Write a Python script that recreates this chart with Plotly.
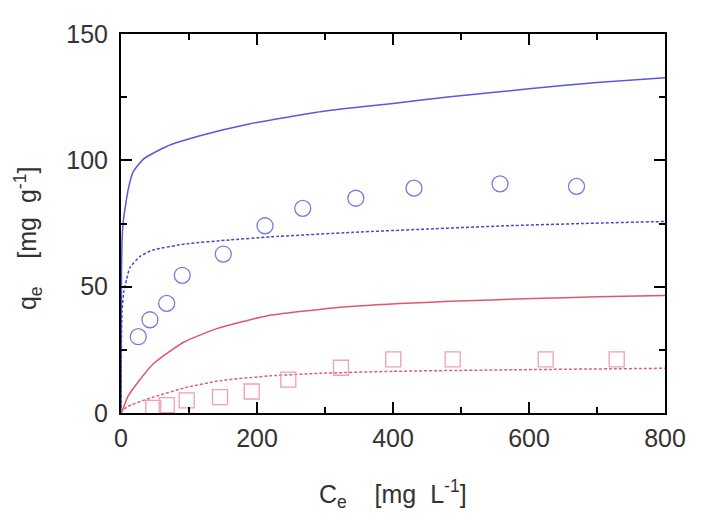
import plotly.graph_objects as go

# Experimental data
circ_x = [25.4, 42.6, 67.2, 90.1, 150.4, 211.8, 267.2, 345.3, 430.9, 557.4, 669.9]
circ_y = [30.2, 36.9, 43.4, 54.5, 62.9, 74.1, 81.0, 85.0, 89.0, 90.7, 89.7]
sq_x = [47.5, 67.2, 96.6, 145.6, 192.2, 246.0, 323.5, 400.4, 487.8, 624.5, 729.0]
sq_y = [2.0, 3.1, 5.0, 6.3, 8.5, 13.2, 17.9, 21.2, 21.2, 21.2, 21.2]

# Model curves
bs_x = [0, 0.3, 0.7, 1.5, 3, 6, 11, 18, 33, 67, 116, 190, 300, 400, 484, 600, 700, 800]
bs_y = [0, 30, 55, 68, 75, 81, 89, 95.5, 100.5, 105.5, 109.7, 114.5, 119.5, 122.5, 125.2, 128.3, 130.8, 132.7]
bd_x = [0, 0.5, 1.5, 4, 8.4, 13, 28, 47, 97, 160, 219, 341, 450, 567, 680, 800]
bd_y = [0, 25, 40, 48, 53, 57.5, 62, 64.5, 67, 68.5, 69.7, 71.5, 72.8, 74.1, 75, 75.8]
rs_x = [0, 3.4, 10, 23, 47.5, 92, 141, 214, 312, 410, 484, 606, 700, 800]
rs_y = [0, 2, 6.5, 11.5, 19.5, 28, 33.4, 38.4, 41.6, 43.3, 44.2, 45.3, 46.0, 46.5]
rd_x = [0, 8.4, 47.5, 97, 146, 219, 293, 400, 577, 800]
rd_y = [0, 2.4, 6.3, 10.2, 12.8, 14.7, 15.7, 16.5, 17.1, 17.7]

x_ticks = [0, 200, 400, 600, 800]
y_ticks = [0, 50, 100, 150]

fig = go.Figure()
fig.add_trace(go.Scatter(x=bs_x, y=bs_y, mode="lines", line=dict(color="#5858e0", width=1.5, shape="spline", smoothing=0.5)))
fig.add_trace(go.Scatter(x=bd_x, y=bd_y, mode="lines", line=dict(color="#4848c8", width=1.5, dash="3px,2px", shape="spline", smoothing=0.5)))
fig.add_trace(go.Scatter(x=rs_x, y=rs_y, mode="lines", line=dict(color="#e05868", width=1.5, shape="spline", smoothing=0.5)))
fig.add_trace(go.Scatter(x=rd_x, y=rd_y, mode="lines", line=dict(color="#e06070", width=1.5, dash="3px,2px", shape="spline", smoothing=0.5)))
fig.add_trace(go.Scatter(x=circ_x, y=circ_y, mode="markers",
                         marker=dict(symbol="circle-open", size=16, color="#7a7ad8", line=dict(width=1.3))))
fig.add_trace(go.Scatter(x=sq_x, y=sq_y, mode="markers",
                         marker=dict(symbol="square-open", size=15, color="#f0a0b0", line=dict(width=1.3))))

font = dict(family="Liberation Sans, Arial, sans-serif", size=25, color="#333333")
axis_common = dict(showline=True, linecolor="black", linewidth=2, mirror="allticks",
                   ticks="inside", ticklen=11, tickwidth=2, tickcolor="black",
                   showgrid=False, zeroline=False, tickfont=font)
fig.update_xaxes(range=[0, 800], tickvals=x_ticks, ticktext=[str(v) for v in x_ticks],
                 minor=dict(ticks="inside", ticklen=6, tickwidth=2, tickcolor="black", dtick=100, showgrid=False),
                 ticklabelstandoff=2, **axis_common)
fig.update_yaxes(range=[0, 150], tickvals=y_ticks, ticktext=[str(v) for v in y_ticks],
                 minor=dict(ticks="inside", ticklen=6, tickwidth=2, tickcolor="black", dtick=25, showgrid=False),
                 ticklabelstandoff=6, **axis_common)

fig.add_annotation(text="C<sub>e</sub>\u00a0\u00a0\u00a0\u00a0[mg\u00a0\u00a0L<sup>-1</sup>]", xref="paper", yref="paper",
                   x=0.5, y=-0.215, xanchor="center", yanchor="middle", showarrow=False, font=font)
fig.add_annotation(text="q<sub>e</sub>\u00a0\u00a0\u00a0\u00a0[mg\u00a0\u00a0g<sup>-1</sup>]", xref="paper", yref="paper",
                   x=-0.172, y=0.46, xanchor="center", yanchor="middle", textangle=-90, showarrow=False, font=font)

fig.update_layout(width=703, height=528, margin=dict(l=113, r=46, t=18, b=123),
                  plot_bgcolor="white", paper_bgcolor="white", showlegend=False)
fig.write_html("out.html")
